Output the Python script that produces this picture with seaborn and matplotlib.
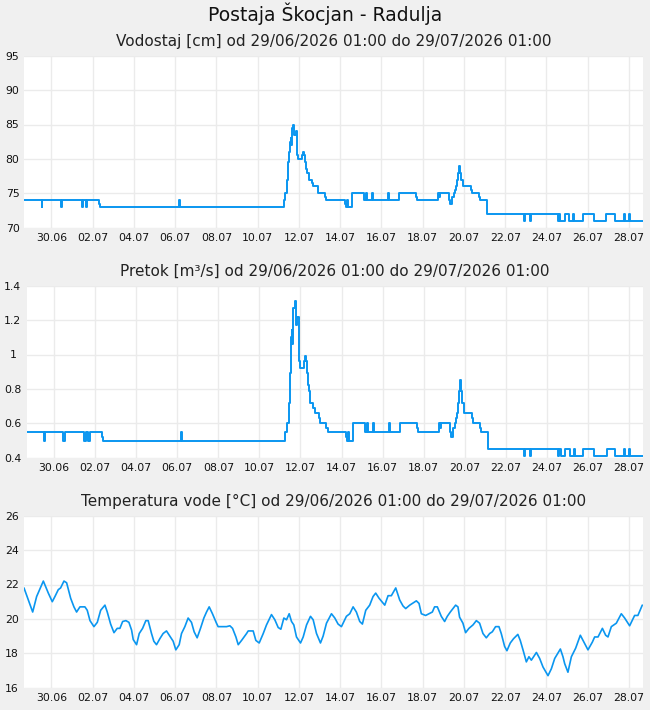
import numpy as np
import pandas as pd
import matplotlib
matplotlib.use("Agg")
import matplotlib.pyplot as plt
import seaborn as sns

# Time origin of the plotted window (values below are hours since this moment)
t0 = pd.Timestamp("2026-06-28 16:00")
span_hours = 720

# Water level [cm] and discharge [m3/s], step series (change points)
level_hours = [0, 20.4, 21.5, 43.0, 44.2, 67.5, 69.0, 72.1, 73.6, 87.6, 89.0, 180.8, 182.0,
               302.4, 303.9, 306.2, 307.4, 308.5, 309.4, 310.2, 310.5, 311.7, 313.2, 314.4,
               316.0, 317.8, 319.0, 323.7, 324.8, 326.0, 327.2, 328.3, 329.9, 331.5, 334.6,
               336.5, 341.6, 342.7, 350.4, 351.6, 373.3, 374.5, 376.0, 376.8, 381.5, 395.8,
               397.7, 399.3, 405.1, 406.2, 423.7, 424.8, 436.5, 456.5, 457.9, 482.1, 483.0,
               484.2, 494.6, 495.8, 497.8, 500.1, 501.6, 502.8, 504.4, 505.3, 506.3, 507.9,
               509.0, 510.9, 520.7, 521.8, 529.5, 531.1, 538.8, 581.5, 582.6, 588.5, 589.6,
               621.4, 622.6, 624.2, 629.2, 634.6, 639.3, 640.4, 650.5, 663.3, 677.7, 687.7,
               697.8, 699.0, 704.0, 705.1, 720]
vodostaj = [74, 73, 74, 73, 74, 73, 74, 73, 74, 73.5, 73, 74, 73,
            74, 75, 77, 79.5, 81, 82.5, 83, 82, 84.5, 85, 83.5,
            84, 80.5, 80, 80.5, 81, 80.5, 79.5, 78.5, 78, 77, 76.5,
            76, 75.5, 75, 74.5, 74, 73.5, 73, 74, 73, 75, 74,
            75, 74, 75, 74, 75, 74, 75, 74.5, 74, 75, 74.5,
            75, 74, 73.5, 74.5, 75, 75.5, 76, 77, 78, 79, 78,
            77, 76, 75.5, 75, 74.5, 74, 72, 71, 72, 71, 72,
            71, 72, 71, 72, 71, 72, 71, 72, 71, 72, 71,
            72, 71, 72, 71, 71]
pretok = [0.55, 0.50, 0.55, 0.50, 0.55, 0.50, 0.55, 0.50, 0.55, 0.52, 0.50, 0.55, 0.50,
          0.55, 0.60, 0.72, 0.89, 0.99, 1.10, 1.14, 1.06, 1.27, 1.31, 1.17,
          1.22, 0.96, 0.92, 0.96, 0.99, 0.96, 0.89, 0.82, 0.79, 0.72, 0.69,
          0.66, 0.63, 0.60, 0.57, 0.55, 0.52, 0.50, 0.55, 0.50, 0.60, 0.55,
          0.60, 0.55, 0.60, 0.55, 0.60, 0.55, 0.60, 0.57, 0.55, 0.60, 0.57,
          0.60, 0.55, 0.52, 0.57, 0.60, 0.63, 0.66, 0.72, 0.79, 0.85, 0.79,
          0.72, 0.66, 0.63, 0.60, 0.57, 0.55, 0.45, 0.41, 0.45, 0.41, 0.45,
          0.41, 0.45, 0.41, 0.45, 0.41, 0.45, 0.41, 0.45, 0.41, 0.45, 0.41,
          0.45, 0.41, 0.45, 0.41, 0.41]

# Water temperature [°C]
temp_hours = [0, 10.1, 14.7, 22.5, 28.3, 32.9, 36.0, 39.9, 42.6, 46.5, 49.6, 54.3, 58.1,
              61.2, 65.1, 70.9, 73.6, 76.8, 81.4, 85.3, 89.2, 94.2, 96.9, 100.8, 104.7,
              108.5, 111.6, 114.8, 118.6, 122.1, 125.2, 127.1, 131.0, 134.1, 138.0, 141.8,
              144.5, 148.4, 151.1, 154.2, 158.1, 161.9, 165.8, 169.7, 173.6, 176.7, 180.6,
              183.3, 187.2, 191.0, 194.9, 198.0, 201.5, 205.4, 209.3, 212.4, 215.5, 219.3,
              224.0, 225.9, 235.7, 239.6, 242.7, 246.6, 249.3, 253.2, 259.0, 260.9, 266.7,
              269.8, 273.7, 278.4, 282.2, 288.0, 291.9, 295.8, 298.9, 302.4, 305.5, 308.6,
              311.3, 314.0, 317.1, 321.8, 324.9, 328.8, 333.4, 336.5, 340.4, 345.0, 348.1,
              352.0, 357.8, 361.7, 365.5, 369.4, 375.2, 379.1, 383.0, 386.8, 390.7, 393.8,
              397.7, 402.3, 406.2, 409.3, 413.2, 419.8, 423.7, 427.5, 432.6, 437.2, 441.1,
              444.2, 448.9, 456.6, 459.7, 462.4, 467.4, 475.2, 477.8, 481.0, 485.6, 489.5,
              492.6, 496.1, 502.3, 505.0, 506.9, 510.8, 513.9, 517.8, 522.5, 526.4, 530.2,
              534.1, 538.0, 541.9, 545.0, 548.8, 552.7, 555.4, 559.3, 562.0, 565.9, 569.7,
              574.7, 577.5, 580.7, 584.6, 587.6, 590.4, 596.3, 600.1, 604.0, 609.8, 613.7,
              617.6, 624.2, 627.2, 629.2, 633.0, 637.0, 642.0, 647.4, 650.5, 656.3, 661.4,
              664.1, 668.0, 673.1, 676.9, 679.6, 683.5, 689.3, 695.1, 699.0, 704.8, 710.6,
              714.4, 719.5]
temperatura = [21.8, 20.4, 21.3, 22.2, 21.5, 21.0, 21.3, 21.7, 21.8, 22.2, 22.1, 21.2, 20.7,
               20.4, 20.7, 20.7, 20.5, 19.9, 19.55, 19.8, 20.5, 20.8, 20.4, 19.7, 19.2,
               19.45, 19.45, 19.85, 19.9, 19.8, 19.35, 18.8, 18.5, 19.15, 19.45, 19.9,
               19.9, 19.15, 18.7, 18.5, 18.85, 19.15, 19.3, 19.0, 18.7, 18.2, 18.5,
               19.15, 19.55, 20.05, 19.8, 19.25, 18.9, 19.45, 20.05, 20.4, 20.7, 20.3,
               19.75, 19.55, 19.55, 19.6, 19.45, 18.95, 18.5, 18.75, 19.15, 19.3, 19.3,
               18.75, 18.6, 19.15, 19.65, 20.25, 19.95, 19.5, 19.4, 20.05, 19.95, 20.3,
               19.85, 19.65, 18.95, 18.6, 18.95, 19.65, 20.15, 19.95, 19.15, 18.6, 19.0,
               19.75, 20.3, 20.05, 19.7, 19.55, 20.15, 20.3, 20.7, 20.4, 19.85, 19.7,
               20.5, 20.8, 21.3, 21.5, 21.2, 20.8, 21.35, 21.35, 21.8, 21.1, 20.75,
               20.6, 20.8, 21.05, 20.9, 20.3, 20.2, 20.4, 20.7, 20.7, 20.15, 19.85,
               20.15, 20.4, 20.8, 20.7, 20.1, 19.75, 19.2, 19.45, 19.65, 19.9, 19.75,
               19.15, 18.9, 19.15, 19.25, 19.55, 19.55, 19.15, 18.4, 18.15, 18.6, 18.85,
               19.1, 18.75, 18.2, 17.5, 17.8, 17.6, 18.05, 17.7, 17.2, 16.7, 17.1,
               17.7, 18.25, 17.8, 17.4, 16.9, 17.8, 18.3, 19.05, 18.75, 18.2, 18.65,
               18.95, 18.95, 19.45, 19.05, 18.95, 19.55, 19.75, 20.3, 20.05, 19.6, 20.2,
               20.2, 20.8]

titles = ["Vodostaj [cm] od 29/06/2026 01:00 do 29/07/2026 01:00",
          "Pretok [m³/s] od 29/06/2026 01:00 do 29/07/2026 01:00",
          "Temperatura vode [°C] od 29/06/2026 01:00 do 29/07/2026 01:00"]
tick_days = pd.date_range("2026-06-30", "2026-07-28", freq="2D")

sns.set_theme(style="whitegrid")
plt.rcParams["font.family"] = ["DejaVu Sans"]

bg = "#f0f0f0"
line_color = "#0a96f0"
grid_color = "#ebebeb"

fig = plt.figure(figsize=(6.5, 7.1), dpi=100, facecolor=bg)
W, H = 650, 710

def make_ax(left, top, right, bottom):
    return fig.add_axes([left / W, 1 - bottom / H, (right - left) / W, (bottom - top) / H])

ax1 = make_ax(24, 55.7, 642.7, 227.7)
ax2 = make_ax(26.7, 285.7, 642.7, 457.7)
ax3 = make_ax(24, 515.7, 642.7, 687.7)

lvl_t = t0 + pd.to_timedelta(level_hours, unit="h")
tmp_t = t0 + pd.to_timedelta(temp_hours, unit="h")

sns.lineplot(x=lvl_t, y=vodostaj, ax=ax1, color=line_color, linewidth=1.4,
             drawstyle="steps-post", estimator=None)
sns.lineplot(x=lvl_t, y=pretok, ax=ax2, color=line_color, linewidth=1.4,
             drawstyle="steps-post", estimator=None)
sns.lineplot(x=tmp_t, y=temperatura, ax=ax3, color=line_color, linewidth=1.2,
             estimator=None)

ax1.set_ylim(70, 95)
ax1.set_yticks(np.arange(70, 96, 5))
ax2.set_ylim(0.4, 1.4)
ax2.set_yticks([0.4, 0.6, 0.8, 1.0, 1.2, 1.4])
ax2.set_yticklabels(["0.4", "0.6", "0.8", "1", "1.2", "1.4"])
ax3.set_ylim(16, 26)
ax3.set_yticks(np.arange(16, 27, 2))

for ax, title, ypad in zip([ax1, ax2, ax3], titles, [8.2, 10.0, 8.6]):
    ax.set_facecolor("white")
    ax.set_xlim(t0, t0 + pd.Timedelta(hours=span_hours))
    ax.set_xticks(tick_days)
    ax.set_xticklabels([d.strftime("%d.%m") for d in tick_days])
    for s in ax.spines.values():
        s.set_visible(False)
    ax.grid(True, color=grid_color, linewidth=1)
    ax.tick_params(axis="x", length=0, labelsize=7.8, pad=4, colors="#111111")
    ax.tick_params(axis="y", length=0, labelsize=7.8, pad=ypad, colors="#111111")
    for lab in ax.get_yticklabels():
        lab.set_horizontalalignment("center")
    ax.set_xlabel("")
    ax.set_ylabel("")
    ax.set_title(title, fontsize=11, pad=7, color="#222222")

fig.text(0.5, 1 - 14 / H, "Postaja Škocjan - Radulja", ha="center", va="center",
         fontsize=13.5, color="#111111")

fig.savefig("out.png", dpi=100, facecolor=bg)
